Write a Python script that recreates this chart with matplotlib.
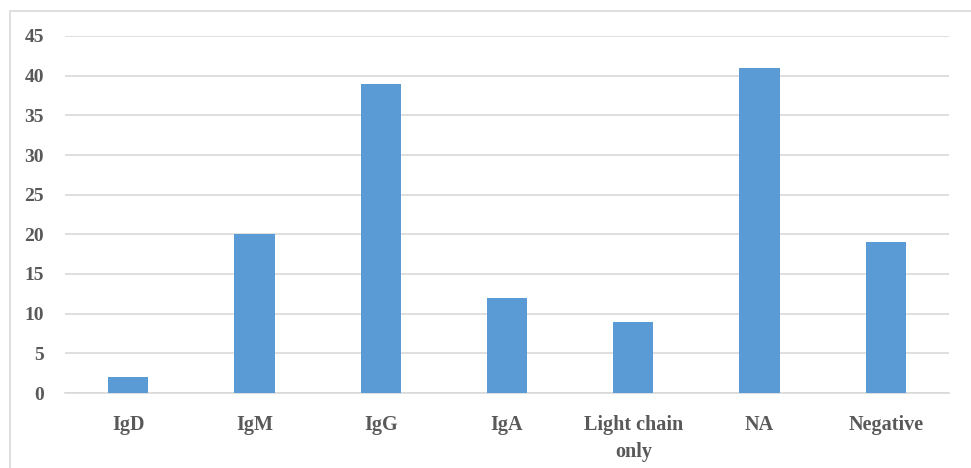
import matplotlib
matplotlib.use("Agg")
import matplotlib.pyplot as plt
from matplotlib.patches import Rectangle

categories = ["IgD", "IgM", "IgG", "IgA", "Light chain\nonly", "NA", "Negative"]
counts = [2, 20, 39, 12, 9, 41, 19]
yticks = [0, 5, 10, 15, 20, 25, 30, 35, 40, 45]

text_color = "#595959"
grid_color = "#d9d9d9"
bar_color = "#5b9bd5"

plt.rcParams["font.family"] = ["Liberation Serif", "DejaVu Serif"]
plt.rcParams["font.weight"] = "bold"

fig = plt.figure(figsize=(9.71, 4.68), dpi=100)
ax = fig.add_axes([65 / 971, 1 - 393 / 468, (949 - 65) / 971, (393 - 36) / 468])

x = range(len(categories))
ax.bar(x, counts, width=0.32, color=bar_color, zorder=3)

ax.set_xlim(-0.5, len(categories) - 0.5)
ax.set_ylim(0, 45)
ax.set_yticks(yticks)
ax.set_xticks(list(x))
ax.set_xticklabels(categories, fontsize=14.5, fontweight="bold", color=text_color,
                   linespacing=1.45)
ax.set_yticklabels([str(v) for v in yticks], fontsize=14, fontweight="bold",
                   color=text_color)
ax.tick_params(axis="both", length=0)
ax.tick_params(axis="y", pad=15)
ax.tick_params(axis="x", pad=16)
ax.yaxis.grid(True, color=grid_color, linewidth=1.2, zorder=0)
for side in ["top", "right", "left"]:
    ax.spines[side].set_visible(False)
ax.spines["bottom"].set_color(grid_color)
ax.spines["bottom"].set_linewidth(1.2)

# light frame around the chart area
fig.patches.append(Rectangle((10 / 971, -0.1), 1.2, 1 - 11 / 468 + 0.1,
                             transform=fig.transFigure, fill=False,
                             edgecolor=grid_color, linewidth=1.2))

fig.savefig("out.png", dpi=100)
